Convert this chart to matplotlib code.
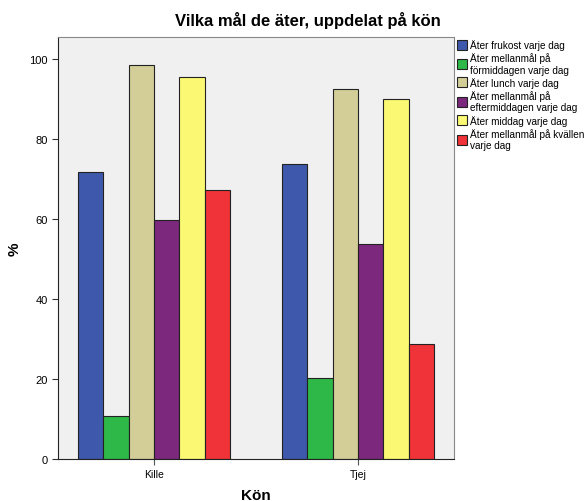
import numpy as np
import matplotlib.pyplot as plt

plt.rcParams['font.family'] = ['Liberation Sans', 'DejaVu Sans']

# andel (%) per kön
kategorier = ['Kille', 'Tjej']
serier = ['Äter frukost varje dag',
          'Äter mellanmål på\nförmiddagen varje dag',
          'Äter lunch varje dag',
          'Äter mellanmål på\neftermiddagen varje dag',
          'Äter middag varje dag',
          'Äter mellanmål på kvällen\nvarje dag']
frukost = [71.7, 73.8]
mm_form = [10.7, 20.2]
lunch = [98.5, 92.5]
mm_efter = [59.8, 53.8]
middag = [95.5, 90.0]
mm_kvall = [67.2, 28.8]
farger = ['#3E58AC', '#2EB848', '#D3CE97', '#7B287D', '#FBF873', '#EF3338']

varden = [frukost, mm_form, lunch, mm_efter, middag, mm_kvall]

fig = plt.figure(figsize=(5.85, 5.02), dpi=100)
ax = fig.add_axes([0.0991, 0.0837, 0.677, 0.8406])
ax.set_facecolor('#F0F0F0')

x = np.arange(len(kategorier))
w = 0.124
for i, (namn, v, c) in enumerate(zip(serier, varden, farger)):
    ax.bar(x + (i - 2.5) * w, v, w, color=c, edgecolor='#222222',
           linewidth=0.8, label=namn)

ax.set_xlim(-0.47, 1.47)
ax.set_ylim(0, 105.5)
ax.set_xticks(x)
ax.set_xticklabels(kategorier, fontsize=7.5)
ax.set_yticks([0, 20, 40, 60, 80, 100])
ax.tick_params(axis='y', labelsize=8, length=4, color='#333333')
ax.tick_params(axis='x', length=4, color='#555555')
for s in ['top', 'right']:
    ax.spines[s].set_color('#888888')
for s in ['left', 'bottom']:
    ax.spines[s].set_color('#222222')

ax.set_xlabel('Kön', fontsize=11, fontweight='bold', labelpad=6)
ax.set_ylabel('%', fontsize=11, fontweight='bold', labelpad=5)
fig.text(0.526, 0.96, 'Vilka mål de äter, uppdelat på kön', ha='center',
         va='center', fontsize=12, fontweight='bold')

fig.legend(loc='upper left', bbox_to_anchor=(0.774, 0.928), frameon=False,
           fontsize=7.2, handlelength=1.0, handleheight=1.15,
           handletextpad=0.3, labelspacing=0.22, borderaxespad=0)

fig.savefig('out.png', dpi=100)
